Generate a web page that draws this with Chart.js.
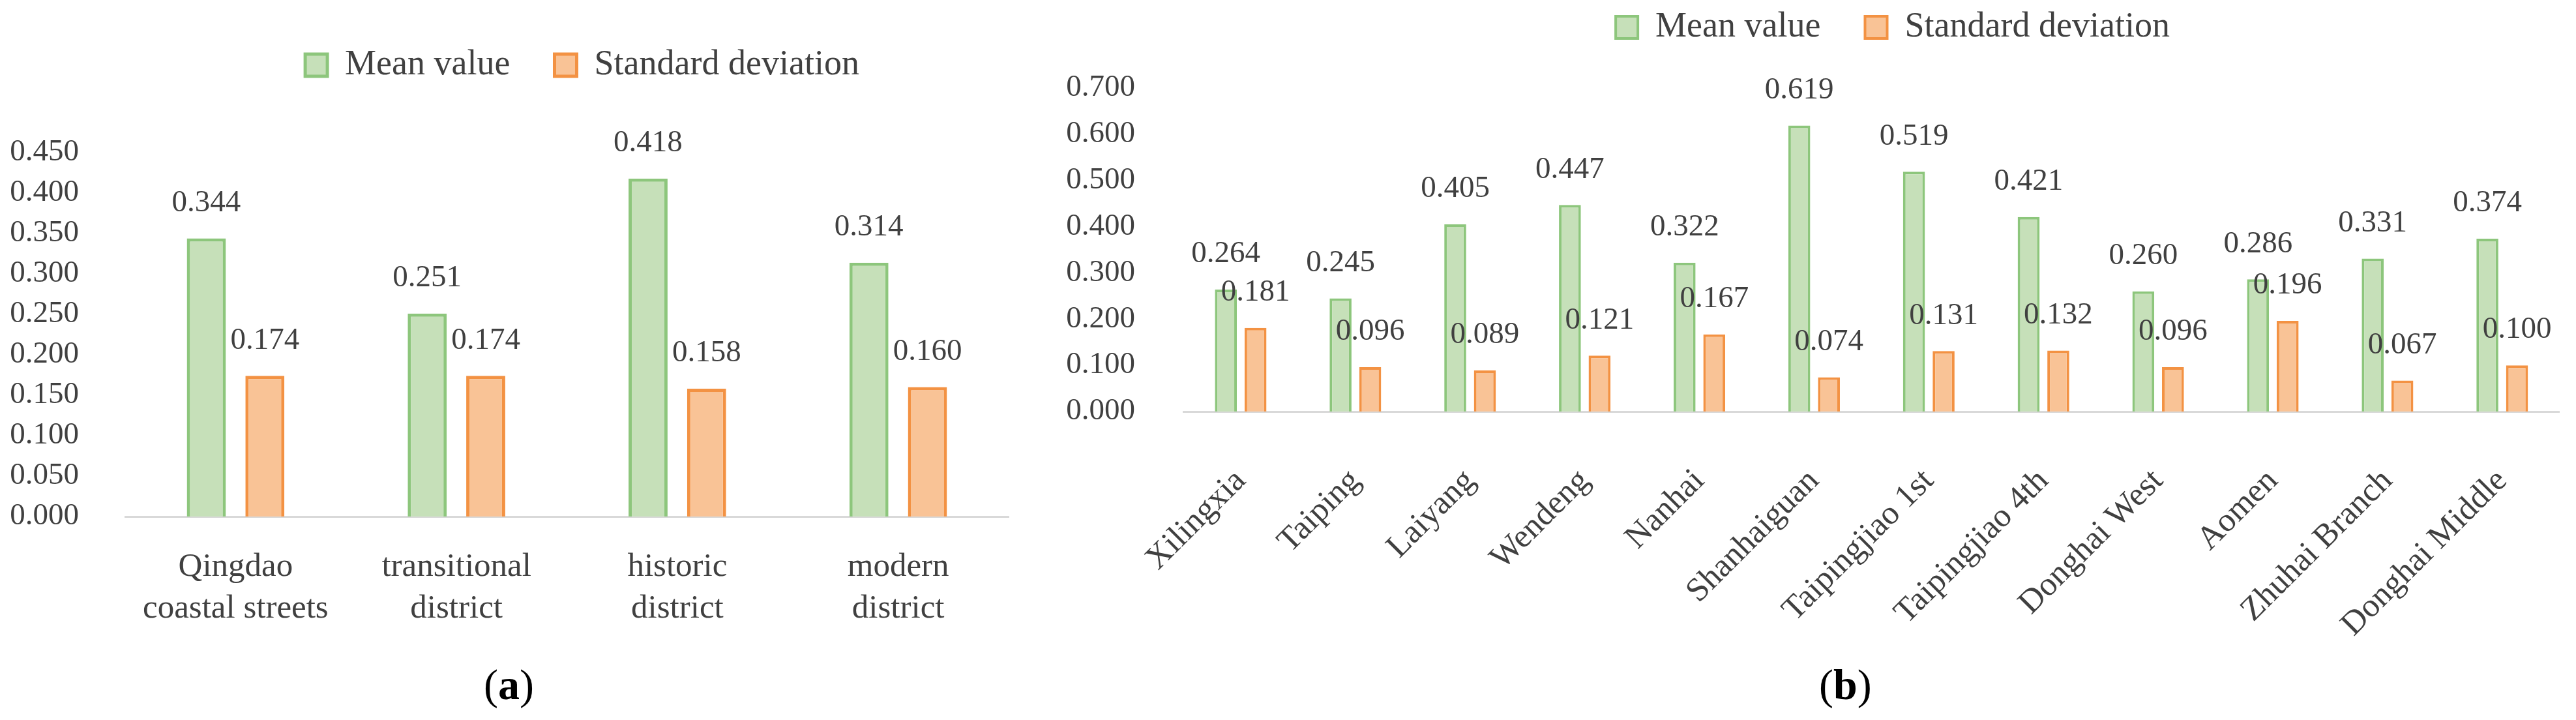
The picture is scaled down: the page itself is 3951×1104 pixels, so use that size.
<!DOCTYPE html>
<html>
<head>
<meta charset="utf-8">
<script src="https://cdn.jsdelivr.net/npm/chart.js@4.4.1/dist/chart.umd.min.js"></script>
<style>
  body { margin: 0; width: 3951px; height: 1104px; background: #fff; overflow: hidden; position: relative; }
  canvas { position: absolute; top: 0; }
  .cap { position: absolute; top: 1012px; font: 66px "Liberation Serif"; color: #000; }
</style>
</head>
<body>
<canvas id="chartA" width="1560" height="1000" style="left:0"></canvas>
<canvas id="chartB" width="2351" height="1000" style="left:1600px"></canvas>
<div class="cap" style="left:742px">(<b>a</b>)</div>
<div class="cap" style="left:2790px">(<b>b</b>)</div>
<script>
// (a) street types
var districts = [["Qingdao", "coastal streets"], ["transitional", "district"], ["historic", "district"], ["modern", "district"]];
var districtMean = [0.344, 0.251, 0.418, 0.314];
var districtSd = [0.174, 0.174, 0.158, 0.160];
var ticksA = [0, 0.45, 0.05];

// (b) single streets
var streets = ["Xilingxia", "Taiping", "Laiyang", "Wendeng", "Nanhai", "Shanhaiguan", "Taipingjiao 1st",
  "Taipingjiao 4th", "Donghai West", "Aomen", "Zhuhai Branch", "Donghai Middle"];
var streetMean = [0.264, 0.245, 0.405, 0.447, 0.322, 0.619, 0.519, 0.421, 0.260, 0.286, 0.331, 0.374];
var streetSd = [0.181, 0.096, 0.089, 0.121, 0.167, 0.074, 0.131, 0.132, 0.096, 0.196, 0.067, 0.100];
var ticksB = [0, 0.7, 0.1];

var seriesNames = ["Mean value", "Standard deviation"];

var serif = '"Liberation Serif", serif';
var textColor = "#404040";

// moves the legend and leaves a gap under it
var legendPlace = {
  id: "legendPlace",
  beforeInit: function (chart) {
    var fit = chart.legend.fit;
    chart.legend.fit = function () {
      fit.call(this);
      this.height += chart.options.plugins.legendPlace.gap;
    };
  },
  afterLayout: function (chart, args, opts) {
    var lg = chart.legend;
    var dx = opts.cx - (lg.left + lg.right) / 2;
    lg.left += dx;
    lg.right += dx;
    lg.top += opts.dy;
    lg.bottom += opts.dy;
  }
};

// value written above every bar
var valueLabels = {
  id: "valueLabels",
  afterDatasetsDraw: function (chart, args, opts) {
    var ctx = chart.ctx;
    ctx.save();
    ctx.font = opts.size + "px " + serif;
    ctx.fillStyle = textColor;
    ctx.textAlign = "center";
    ctx.textBaseline = "middle";
    chart.data.datasets.forEach(function (ds, i) {
      chart.getDatasetMeta(i).data.forEach(function (bar, j) {
        ctx.fillText(ds.data[j].toFixed(3), bar.x, bar.y - opts.offset);
      });
    });
    ctx.restore();
  }
};

function makeChart(id, labels, mean, sd, ticks, s) {
  var ctx = document.getElementById(id).getContext("2d");
  return new Chart(ctx, {
    type: "bar",
    data: {
      labels: labels,
      datasets: [
        {
          label: seriesNames[0],
          data: mean,
          backgroundColor: "#C6E0B9",
          borderColor: "#8DC67C",
          borderWidth: s.border,
          categoryPercentage: s.catPct,
          barPercentage: s.barPct
        },
        {
          label: seriesNames[1],
          data: sd,
          backgroundColor: "#F9C396",
          borderColor: "#F39243",
          borderWidth: s.border,
          categoryPercentage: s.catPct,
          barPercentage: s.barPct
        }
      ]
    },
    options: {
      responsive: false,
      animation: false,
      devicePixelRatio: 1,
      layout: { padding: { left: 0, right: s.right, top: 0, bottom: 0 } },
      plugins: {
        legend: {
          position: "top",
          labels: {
            boxWidth: 34,
            boxHeight: 34,
            padding: 68,
            color: textColor,
            font: { family: serif, size: 54 }
          }
        },
        tooltip: { enabled: false },
        legendPlace: { gap: s.gap, cx: s.legendX, dy: s.legendDy },
        valueLabels: { size: 47, offset: 54 }
      },
      scales: {
        x: {
          grid: { display: false },
          border: { display: true, color: "#D9D9D9", width: 3 },
          ticks: {
            autoSkip: false,
            maxRotation: s.rotation,
            minRotation: s.rotation,
            padding: s.xPad,
            color: textColor,
            font: { family: serif, size: 51, lineHeight: 1.25 }
          },
          afterFit: function (scale) { scale.height = s.xHeight; }
        },
        y: {
          min: ticks[0],
          max: ticks[1],
          grid: { display: false },
          border: { display: false },
          ticks: {
            stepSize: ticks[2],
            padding: s.yPad,
            color: textColor,
            font: { family: serif, size: 47 },
            callback: function (v) { return v.toFixed(3); }
          },
          afterFit: function (scale) { scale.width = s.yWidth; }
        }
      }
    },
    plugins: [legendPlace, valueLabels]
  });
}

makeChart("chartA", districts, districtMean, districtSd, ticksA, {
  border: 5, catPct: 0.53, barPct: 0.667, right: 13, gap: 102, legendX: 893, legendDy: 5,
  rotation: 0, xPad: 38, xHeight: 208, yPad: 63, yWidth: 192
});

makeChart("chartB", streets, streetMean, streetSd, ticksB, {
  border: 4, catPct: 0.517, barPct: 0.74, right: 3, gap: 3, legendX: 1303, legendDy: -53,
  rotation: 45, xPad: 68, xHeight: 369, yPad: 66, yWidth: 215
});
</script>
</body>
</html>
